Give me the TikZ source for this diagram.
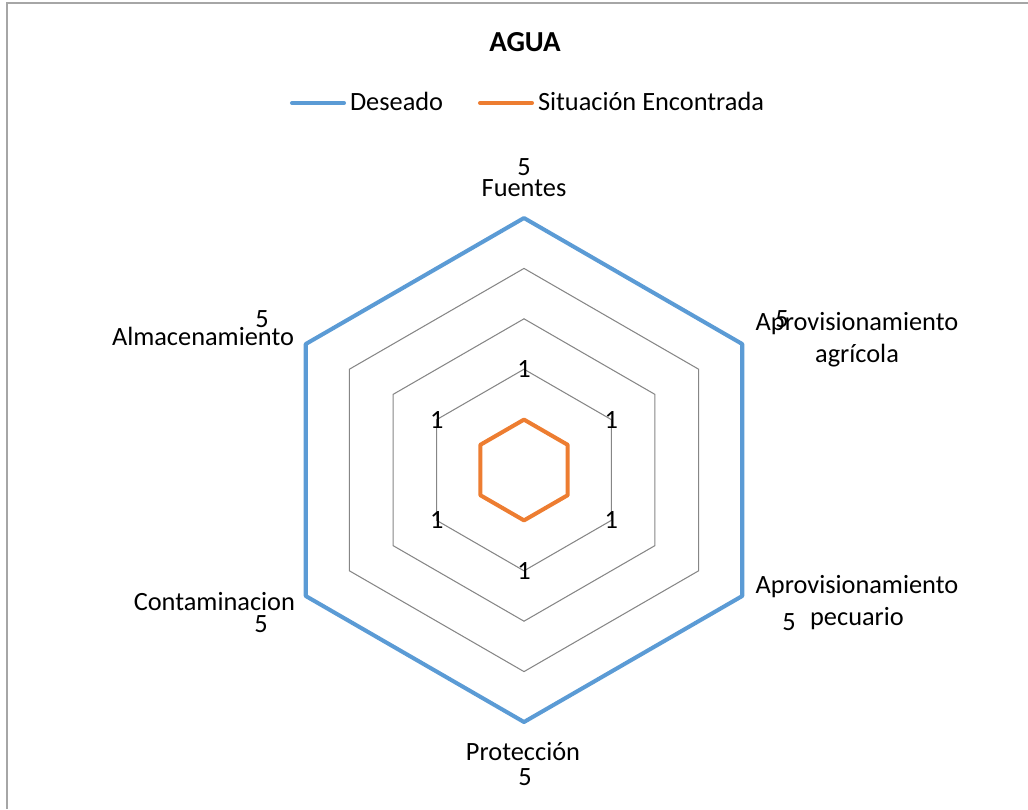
\documentclass[tikz,border=0pt]{standalone}
\usepackage{fontspec}
\setmainfont{Carlito}
\usetikzlibrary{calc}
\definecolor{deseadocolor}{HTML}{5B9BD5}
\definecolor{encontradacolor}{HTML}{ED7D31}
\definecolor{gridcolor}{HTML}{868686}
\definecolor{framecolor}{HTML}{A6A6A6}

\begin{document}
\begin{tikzpicture}[
	x=0.02cm, y=-0.02cm,
	every node/.style={inner sep=0pt, outer sep=0pt, font=\fontsize{15}{18}\selectfont},
	ring/.style={draw=gridcolor, line width=0.6pt},
	serie/.style={line width=2.3pt, line join=round},
	lbl/.style={anchor=base},
]
\useasboundingbox (0,0) rectangle (1028,809);
\draw[framecolor, line width=0.9pt] (7,809) -- (7,3) -- (1028,3);

% Vertices v<level>-<axis>: axis 1 on top, then clockwise.
\coordinate (c) at (524,470);
\foreach \lvl in {1,...,5}{
	\foreach \k/\ang in {1/270,2/330,3/30,4/90,5/150,6/210}{
		\coordinate (v\lvl-\k) at ($(c)+(\ang:50.4*\lvl)$);
	}
}
% Input 1: level. Input 2: style of the ring.
\def\hexring#1[#2]{
	\draw[#2] (v#1-1) -- (v#1-2) -- (v#1-3) -- (v#1-4) -- (v#1-5) -- (v#1-6) -- cycle;
}
	\foreach \lvl in {2,3,4}{\hexring{\lvl}[ring]}
	\hexring{5}[serie, deseadocolor]
	\hexring{1}[serie, encontradacolor]
	\foreach \k in {1,...,6}{\node (uno\k) at (v2-\k) {1};}

	\node[lbl, font=\fontsize{16.5}{20}\selectfont\bfseries] (titulo) at (525,51) {AGUA};
	% Legend.
	\coordinate (des1) at (292,103);
	\coordinate (des2) at (344,103);
	\coordinate (enc1) at (480,103);
	\coordinate (enc2) at (532,103);
	\draw[serie, deseadocolor, line cap=round] (des1) -- (des2);
	\draw[serie, encontradacolor, line cap=round] (enc1) -- (enc2);
	\node[anchor=base west] (desleg) at (350,110) {Deseado};
	\node[anchor=base west] (encleg) at (538,110) {Situación Encontrada};

	% Axis names and values.
	\node[lbl] (fuentes) at (524,196) {Fuentes};
	\node[lbl] (fuentes5) at (524,175) {5};
	\node[lbl] (agr) at (857,330) {Aprovisionamiento};
	\node[lbl] (agr2) at (857,362) {agrícola};
	\node[lbl] (agr5) at (782,327) {5};
	\node[lbl] (pec) at (857,593) {Aprovisionamiento};
	\node[lbl] (pec2) at (857,625) {pecuario};
	\node[lbl] (pec5) at (789,630) {5};
	\node[lbl] (prot) at (523,760) {Protección};
	\node[lbl] (prot5) at (525,785) {5};
	\node[anchor=base east] (cont) at (295,610) {Contaminacion};
	\node[lbl] (cont5) at (261,632) {5};
	\node[anchor=base east] (alm) at (294,345) {Almacenamiento};
	\node[lbl] (alm5) at (262,327) {5};
\end{tikzpicture}
\end{document}
